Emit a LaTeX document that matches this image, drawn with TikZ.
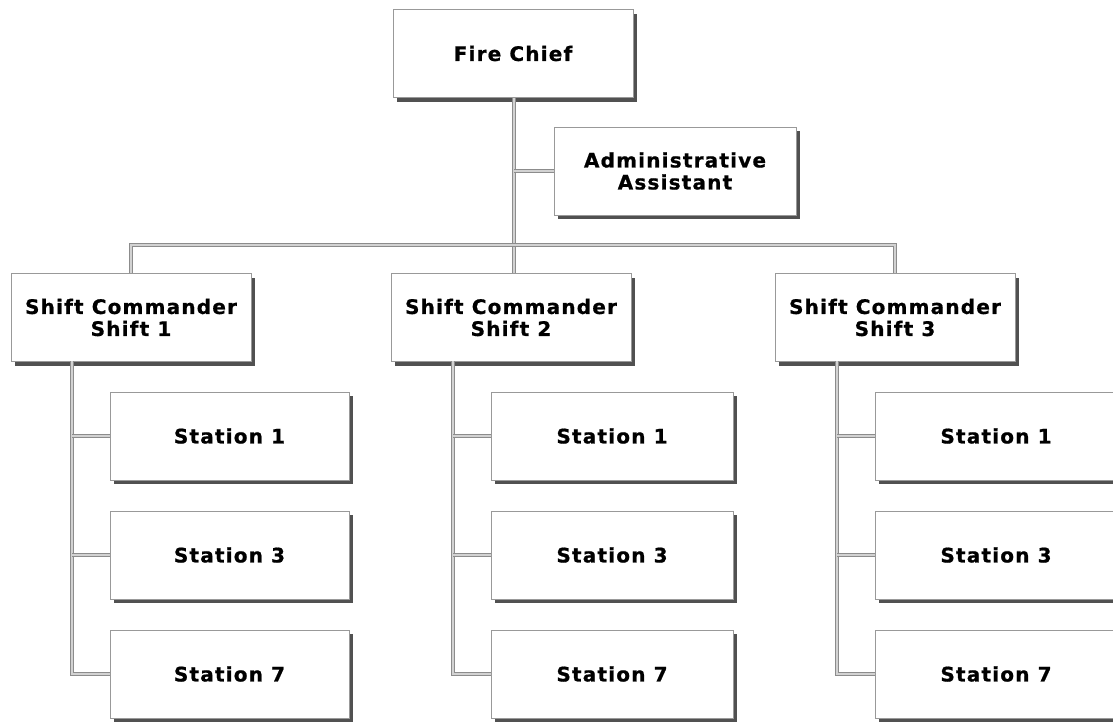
\documentclass[tikz,border=0pt]{standalone}
\usepackage{fontspec}
\setmainfont{DejaVu Sans}
\usetikzlibrary{shadows}
\begin{document}
\begin{tikzpicture}[x=1pt,y=-1pt,
  box/.style={draw=gray!80, line width=0.8pt, fill=white, rectangle, align=center,
    minimum width=240pt, minimum height=88pt, inner sep=0pt,
    font=\fontsize{20}{22}\selectfont\bfseries\addfontfeatures{LetterSpace=6,FakeBold=0.8},
    drop shadow={shadow xshift=4pt, shadow yshift=-4pt, fill=black!80, opacity=0.85}},
  link/.style={draw=gray!90, double=gray!35, double distance=1.6pt, line width=1pt}]
\useasboundingbox (0,0) rectangle (1113,721);
% nodes
\node[box] (chief) at (513,53.5) {Fire Chief};
\node[box, minimum width=242pt] (admin) at (675,171) {Administrative\\Assistant};
\node[box] (s1) at (131,317.5) {Shift Commander\\Shift 1};
\node[box] (s2) at (511,317.5) {Shift Commander\\Shift 2};
\node[box] (s3) at (895,317.5) {Shift Commander\\Shift 3};
\node[box, minimum width=239pt] (a1) at (229.5,436) {Station 1};
\node[box, minimum width=239pt] (a3) at (229.5,555) {Station 3};
\node[box, minimum width=239pt] (a7) at (229.5,674) {Station 7};
\node[box, minimum width=242pt] (b1) at (612,436) {Station 1};
\node[box, minimum width=242pt] (b3) at (612,555) {Station 3};
\node[box, minimum width=242pt] (b7) at (612,674) {Station 7};
\node[box, minimum width=242pt] (c1) at (996,436) {Station 1};
\node[box, minimum width=242pt] (c3) at (996,555) {Station 3};
\node[box, minimum width=242pt] (c7) at (996,674) {Station 7};
% coordinates
\coordinate (bus) at (514,245);
\coordinate (sa) at (72,361);
\coordinate (sb) at (453,361);
\coordinate (sc) at (837,361);
% connectors
\draw[link] (chief.south -| bus) -- (bus |- s2.north);
\draw[link] (admin.west) -- (admin.west -| bus);
\draw[link] (s1.north) -- (s1.north |- bus) -- (s3.north |- bus) -- (s3.north);
\draw[link] (sa) |- (a7.west);
\draw[link] (sa |- a1.west) -- (a1.west);
\draw[link] (sa |- a3.west) -- (a3.west);
\draw[link] (sb) |- (b7.west);
\draw[link] (sb |- b1.west) -- (b1.west);
\draw[link] (sb |- b3.west) -- (b3.west);
\draw[link] (sc) |- (c7.west);
\draw[link] (sc |- c1.west) -- (c1.west);
\draw[link] (sc |- c3.west) -- (c3.west);
\end{tikzpicture}
\end{document}
